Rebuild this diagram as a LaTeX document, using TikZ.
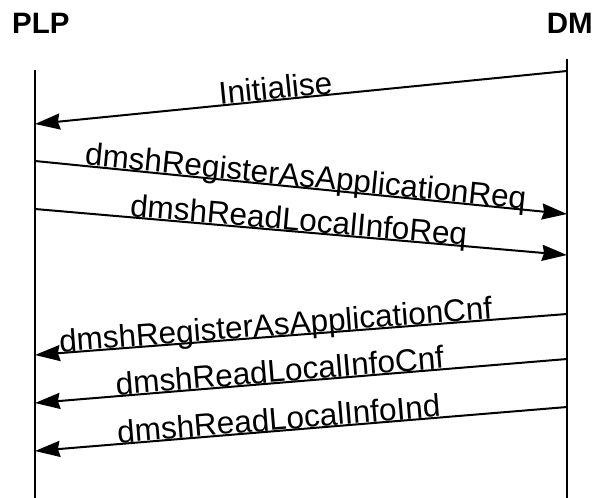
\documentclass[tikz,border=0pt]{standalone}
\usepackage{fontspec}
\setmainfont{Liberation Sans}
\usetikzlibrary{arrows.meta}
\begin{document}
\begin{tikzpicture}[x=1pt,y=-1pt,
  title/.style={font=\fontsize{29.5}{32}\selectfont\bfseries, inner sep=0pt},
  life/.style={line width=2pt},
  msg/.style={line width=2pt, -{Stealth[inset=2pt,length=25pt,width=16pt]}},
  lbl/.style={font=\fontsize{31.5}{34}\selectfont, sloped, anchor=base, inner sep=0pt, yshift=1pt}]
\useasboundingbox (0,0) rectangle (595,498);
\node[title, anchor=base west] (plp) at (12,33) {PLP};
\node[title, anchor=base east] (dm) at (593,33) {DM};
\coordinate (plpT) at (35,70); \coordinate (plpB) at (35,498);
\coordinate (dmT) at (567,59); \coordinate (dmB) at (567,498);
\draw[life] (plpT) -- (plpB);
\draw[life] (dmT) -- (dmB);
\coordinate (m1s) at (567,71);  \coordinate (m1e) at (35,124);
\coordinate (m2s) at (35,161);  \coordinate (m2e) at (567,214);
\coordinate (m3s) at (35,209);  \coordinate (m3e) at (567,255);
\coordinate (m4s) at (567,314); \coordinate (m4e) at (35,355);
\coordinate (m5s) at (567,359); \coordinate (m5e) at (35,403);
\coordinate (m6s) at (567,407); \coordinate (m6e) at (35,451);
\draw[msg] (m1s) -- node[lbl, pos=0.546] (l1) {Initialise} (m1e);
\draw[msg] (m2s) -- node[lbl, pos=0.507] (l2) {dmshRegisterAsApplicationReq} (m2e);
\draw[msg] (m3s) -- node[lbl, pos=0.494] (l3) {dmshReadLocalInfoReq} (m3e);
\draw[msg] (m4s) -- node[lbl, pos=0.546] (l4) {dmshRegisterAsApplicationCnf} (m4e);
\draw[msg] (m5s) -- node[lbl, pos=0.538] (l5) {dmshReadLocalInfoCnf} (m5e);
\draw[msg] (m6s) -- node[lbl, pos=0.54] (l6) {dmshReadLocalInfoInd} (m6e);
\end{tikzpicture}
\end{document}
